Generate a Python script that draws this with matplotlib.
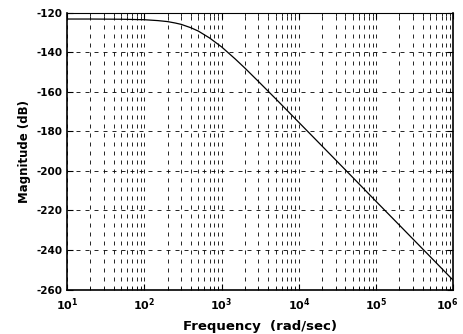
import matplotlib
matplotlib.use("Agg")
import matplotlib.pyplot as plt
from matplotlib.ticker import LogLocator, NullFormatter
from matplotlib.transforms import ScaledTranslation

# Data
freq = [10, 20, 50, 100, 150, 200, 250, 300, 400, 500, 700, 1000, 1500, 2000, 3000,
        5000, 1e4, 2e4, 5e4, 1e5, 2e5, 5e5, 1e6]
mag = [-123.2, -123.2, -123.3, -123.55, -124.0, -124.5, -125.2, -125.9, -127.6, -129.3,
       -132.8, -137.3, -143.4, -148.0, -154.8, -163.5, -175.5, -187.5, -203.4, -215.5,
       -227.5, -243.4, -255.5]
xticks = [1e1, 1e2, 1e3, 1e4, 1e5, 1e6]
xticklabels = [r'$\mathbf{10^{1}}$', r'$\mathbf{10^{2}}$', r'$\mathbf{10^{3}}$',
               r'$\mathbf{10^{4}}$', r'$\mathbf{10^{5}}$', r'$\mathbf{10^{6}}$']
yticks = [-260, -240, -220, -200, -180, -160, -140, -120]
yticklabels = ['-260', '-240', '-220', '-200', '-180', '-160', '-140', '-120']
xlabel = 'Frequency  (rad/sec)'
ylabel = 'Magnitude (dB)'

plt.rcParams['font.family'] = ['DejaVu Sans']
plt.rcParams['mathtext.fontset'] = 'dejavusans'

fig = plt.figure(figsize=(4.63, 3.34), dpi=100)
ax = fig.add_axes([67/463, 1-289.5/334, (453.5-67)/463, (289.5-12.7)/334])

ax.semilogx(freq, mag, color='black', linewidth=0.9, zorder=3)
ax.set_xlim(1e1, 1e6)
ax.set_ylim(-260, -120)

ax.set_xticks(xticks)
ax.set_xticklabels(xticklabels, fontsize=8, fontweight='bold')
ax.xaxis.set_minor_locator(LogLocator(base=10, subs=range(2, 10), numticks=20))
ax.xaxis.set_minor_formatter(NullFormatter())
ax.set_yticks(yticks)
ax.set_yticklabels(yticklabels, fontsize=7.5, fontweight='bold')

dash = (0, (4.8, 6.0))
ax.grid(True, which='major', axis='both', color='black', linewidth=0.6, linestyle=dash)
ax.grid(True, which='minor', axis='x', color='black', linewidth=0.6, linestyle=dash)

ax.tick_params(which='both', direction='in', top=True, right=True)
ax.tick_params(axis='x', which='major', pad=5)
ax.tick_params(axis='y', which='major', pad=3)
ax.tick_params(which='major', length=4, width=0.8)
ax.tick_params(which='minor', length=2.5, width=0.6)
for s in ['left', 'bottom', 'right']:
    ax.spines[s].set_linewidth(1.2)
ax.spines['top'].set_linewidth(0.8)

ax.set_xlabel(xlabel, fontsize=9.5, fontweight='bold', labelpad=5)
ax.set_ylabel(ylabel, fontsize=8.5, fontweight='bold', labelpad=4)

# keep the last tick label inside the figure
last = ax.get_xticklabels()[-1]
last.set_transform(last.get_transform() + ScaledTranslation(-6/100, 0, fig.dpi_scale_trans))

fig.savefig('out.png', dpi=100)
